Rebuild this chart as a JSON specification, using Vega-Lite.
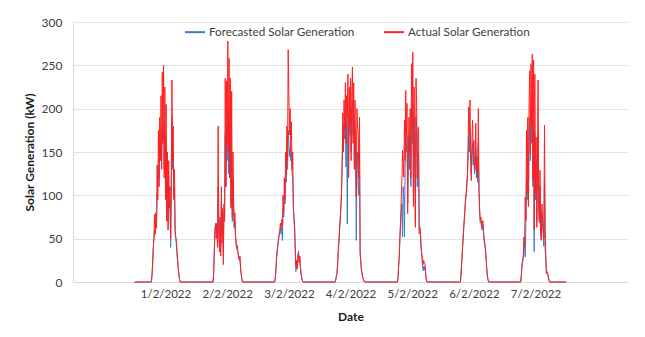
{
  "$schema": "https://vega.github.io/schema/vega-lite/v6.json",
  "width": 555,
  "height": 260,
  "autosize": {"type": "none"},
  "padding": {"left": 73, "top": 22, "right": 17, "bottom": 55},
  "background": "white",
  "config": {
    "view": {"stroke": null},
    "font": "Lato",
    "axis": {
      "labelFont": "Lato",
      "titleFont": "Lato",
      "labelColor": "#404040",
      "titleColor": "#1a1a1a",
      "labelFontSize": 12,
      "titleFontSize": 12,
      "titleFontWeight": "bold",
      "ticks": false,
      "tickSize": 0,
      "domainColor": "#d9d9d9",
      "gridColor": "#e3e3e3"
    },
    "legend": {"labelFont": "Lato", "labelFontSize": 11.7, "labelColor": "#404040"}
  },
  "data": {
    "values": [
      {"time": "2022-02-01T00:00", "forecast": 0, "actual": 0},
      {"time": "2022-02-01T06:30", "forecast": 0, "actual": 0},
      {"time": "2022-02-01T06:45", "forecast": 8, "actual": 8},
      {"time": "2022-02-01T07:00", "forecast": 20, "actual": 22},
      {"time": "2022-02-01T07:15", "forecast": 38, "actual": 40},
      {"time": "2022-02-01T07:30", "forecast": 52, "actual": 50},
      {"time": "2022-02-01T07:45", "forecast": 60, "actual": 78},
      {"time": "2022-02-01T08:00", "forecast": 58, "actual": 55},
      {"time": "2022-02-01T08:15", "forecast": 65, "actual": 80},
      {"time": "2022-02-01T08:30", "forecast": 70, "actual": 62},
      {"time": "2022-02-01T08:45", "forecast": 100, "actual": 135},
      {"time": "2022-02-01T09:00", "forecast": 110, "actual": 95},
      {"time": "2022-02-01T09:15", "forecast": 130, "actual": 175},
      {"time": "2022-02-01T09:30", "forecast": 120, "actual": 110},
      {"time": "2022-02-01T09:45", "forecast": 155, "actual": 190},
      {"time": "2022-02-01T10:00", "forecast": 145, "actual": 140},
      {"time": "2022-02-01T10:15", "forecast": 160, "actual": 215},
      {"time": "2022-02-01T10:30", "forecast": 140, "actual": 130},
      {"time": "2022-02-01T10:45", "forecast": 175, "actual": 242},
      {"time": "2022-02-01T11:00", "forecast": 165, "actual": 160},
      {"time": "2022-02-01T11:15", "forecast": 185, "actual": 250},
      {"time": "2022-02-01T11:30", "forecast": 130, "actual": 120},
      {"time": "2022-02-01T11:45", "forecast": 170, "actual": 225},
      {"time": "2022-02-01T12:00", "forecast": 110, "actual": 95},
      {"time": "2022-02-01T12:15", "forecast": 150, "actual": 205},
      {"time": "2022-02-01T12:30", "forecast": 80, "actual": 70},
      {"time": "2022-02-01T12:45", "forecast": 120, "actual": 150},
      {"time": "2022-02-01T13:00", "forecast": 70, "actual": 60},
      {"time": "2022-02-01T13:15", "forecast": 110, "actual": 140},
      {"time": "2022-02-01T13:30", "forecast": 90, "actual": 85},
      {"time": "2022-02-01T13:45", "forecast": 95, "actual": 110},
      {"time": "2022-02-01T14:00", "forecast": 40, "actual": 50},
      {"time": "2022-02-01T14:15", "forecast": 100, "actual": 120},
      {"time": "2022-02-01T14:30", "forecast": 190, "actual": 233},
      {"time": "2022-02-01T14:45", "forecast": 130, "actual": 140},
      {"time": "2022-02-01T15:00", "forecast": 150, "actual": 180},
      {"time": "2022-02-01T15:15", "forecast": 100, "actual": 95},
      {"time": "2022-02-01T15:30", "forecast": 110, "actual": 130},
      {"time": "2022-02-01T15:45", "forecast": 55, "actual": 60},
      {"time": "2022-02-01T16:00", "forecast": 50, "actual": 52},
      {"time": "2022-02-01T16:15", "forecast": 42, "actual": 48},
      {"time": "2022-02-01T16:30", "forecast": 30, "actual": 35},
      {"time": "2022-02-01T16:45", "forecast": 22, "actual": 25},
      {"time": "2022-02-01T17:00", "forecast": 14, "actual": 15},
      {"time": "2022-02-01T17:15", "forecast": 8, "actual": 8},
      {"time": "2022-02-01T17:30", "forecast": 3, "actual": 3},
      {"time": "2022-02-01T17:45", "forecast": 0, "actual": 0},

      {"time": "2022-02-02T06:30", "forecast": 0, "actual": 0},
      {"time": "2022-02-02T06:45", "forecast": 12, "actual": 10},
      {"time": "2022-02-02T07:00", "forecast": 38, "actual": 35},
      {"time": "2022-02-02T07:15", "forecast": 62, "actual": 58},
      {"time": "2022-02-02T07:30", "forecast": 68, "actual": 65},
      {"time": "2022-02-02T07:45", "forecast": 60, "actual": 50},
      {"time": "2022-02-02T08:00", "forecast": 62, "actual": 68},
      {"time": "2022-02-02T08:15", "forecast": 50, "actual": 40},
      {"time": "2022-02-02T08:30", "forecast": 110, "actual": 180},
      {"time": "2022-02-02T08:45", "forecast": 60, "actual": 55},
      {"time": "2022-02-02T09:00", "forecast": 45, "actual": 35},
      {"time": "2022-02-02T09:15", "forecast": 70, "actual": 75},
      {"time": "2022-02-02T09:30", "forecast": 40, "actual": 30},
      {"time": "2022-02-02T09:45", "forecast": 90, "actual": 110},
      {"time": "2022-02-02T10:00", "forecast": 55, "actual": 45},
      {"time": "2022-02-02T10:15", "forecast": 75, "actual": 85},
      {"time": "2022-02-02T10:30", "forecast": 35, "actual": 20},
      {"time": "2022-02-02T10:45", "forecast": 80, "actual": 90},
      {"time": "2022-02-02T11:00", "forecast": 75, "actual": 70},
      {"time": "2022-02-02T11:15", "forecast": 170, "actual": 235},
      {"time": "2022-02-02T11:30", "forecast": 110, "actual": 110},
      {"time": "2022-02-02T11:45", "forecast": 180, "actual": 232},
      {"time": "2022-02-02T12:00", "forecast": 140, "actual": 160},
      {"time": "2022-02-02T12:15", "forecast": 200, "actual": 278},
      {"time": "2022-02-02T12:30", "forecast": 125, "actual": 150},
      {"time": "2022-02-02T12:45", "forecast": 180, "actual": 258},
      {"time": "2022-02-02T13:00", "forecast": 120, "actual": 120},
      {"time": "2022-02-02T13:15", "forecast": 170, "actual": 235},
      {"time": "2022-02-02T13:30", "forecast": 90, "actual": 85},
      {"time": "2022-02-02T13:45", "forecast": 150, "actual": 220},
      {"time": "2022-02-02T14:00", "forecast": 70, "actual": 75},
      {"time": "2022-02-02T14:15", "forecast": 120, "actual": 150},
      {"time": "2022-02-02T14:30", "forecast": 85, "actual": 100},
      {"time": "2022-02-02T14:45", "forecast": 62, "actual": 65},
      {"time": "2022-02-02T15:00", "forecast": 70, "actual": 80},
      {"time": "2022-02-02T15:15", "forecast": 50, "actual": 55},
      {"time": "2022-02-02T15:30", "forecast": 42, "actual": 45},
      {"time": "2022-02-02T15:45", "forecast": 38, "actual": 40},
      {"time": "2022-02-02T16:00", "forecast": 36, "actual": 42},
      {"time": "2022-02-02T16:15", "forecast": 34, "actual": 32},
      {"time": "2022-02-02T16:30", "forecast": 30, "actual": 28},
      {"time": "2022-02-02T16:45", "forecast": 26, "actual": 25},
      {"time": "2022-02-02T17:00", "forecast": 25, "actual": 30},
      {"time": "2022-02-02T17:15", "forecast": 14, "actual": 15},
      {"time": "2022-02-02T17:30", "forecast": 8, "actual": 8},
      {"time": "2022-02-02T17:45", "forecast": 3, "actual": 3},
      {"time": "2022-02-02T18:00", "forecast": 0, "actual": 0},

      {"time": "2022-02-03T06:30", "forecast": 0, "actual": 0},
      {"time": "2022-02-03T06:45", "forecast": 6, "actual": 5},
      {"time": "2022-02-03T07:00", "forecast": 16, "actual": 15},
      {"time": "2022-02-03T07:15", "forecast": 30, "actual": 28},
      {"time": "2022-02-03T07:30", "forecast": 38, "actual": 36},
      {"time": "2022-02-03T07:45", "forecast": 44, "actual": 42},
      {"time": "2022-02-03T08:00", "forecast": 50, "actual": 48},
      {"time": "2022-02-03T08:15", "forecast": 56, "actual": 55},
      {"time": "2022-02-03T08:30", "forecast": 58, "actual": 60},
      {"time": "2022-02-03T08:45", "forecast": 62, "actual": 68},
      {"time": "2022-02-03T09:00", "forecast": 55, "actual": 62},
      {"time": "2022-02-03T09:15", "forecast": 65, "actual": 72},
      {"time": "2022-02-03T09:30", "forecast": 48, "actual": 65},
      {"time": "2022-02-03T09:45", "forecast": 80, "actual": 100},
      {"time": "2022-02-03T10:00", "forecast": 75, "actual": 80},
      {"time": "2022-02-03T10:15", "forecast": 100, "actual": 120},
      {"time": "2022-02-03T10:30", "forecast": 90, "actual": 95},
      {"time": "2022-02-03T10:45", "forecast": 120, "actual": 150},
      {"time": "2022-02-03T11:00", "forecast": 115, "actual": 120},
      {"time": "2022-02-03T11:15", "forecast": 140, "actual": 180},
      {"time": "2022-02-03T11:30", "forecast": 130, "actual": 140},
      {"time": "2022-02-03T11:45", "forecast": 175, "actual": 268},
      {"time": "2022-02-03T12:00", "forecast": 160, "actual": 220},
      {"time": "2022-02-03T12:15", "forecast": 145, "actual": 170},
      {"time": "2022-02-03T12:30", "forecast": 155, "actual": 200},
      {"time": "2022-02-03T12:45", "forecast": 140, "actual": 150},
      {"time": "2022-02-03T13:00", "forecast": 150, "actual": 185},
      {"time": "2022-02-03T13:15", "forecast": 125, "actual": 130},
      {"time": "2022-02-03T13:30", "forecast": 120, "actual": 150},
      {"time": "2022-02-03T13:45", "forecast": 90, "actual": 85},
      {"time": "2022-02-03T14:00", "forecast": 70, "actual": 75},
      {"time": "2022-02-03T14:15", "forecast": 60, "actual": 65},
      {"time": "2022-02-03T14:30", "forecast": 35, "actual": 40},
      {"time": "2022-02-03T14:45", "forecast": 12, "actual": 18},
      {"time": "2022-02-03T15:00", "forecast": 20, "actual": 25},
      {"time": "2022-02-03T15:15", "forecast": 18, "actual": 15},
      {"time": "2022-02-03T15:30", "forecast": 30, "actual": 28},
      {"time": "2022-02-03T15:45", "forecast": 36, "actual": 33},
      {"time": "2022-02-03T16:00", "forecast": 25, "actual": 22},
      {"time": "2022-02-03T16:15", "forecast": 28, "actual": 30},
      {"time": "2022-02-03T16:30", "forecast": 16, "actual": 18},
      {"time": "2022-02-03T16:45", "forecast": 9, "actual": 10},
      {"time": "2022-02-03T17:00", "forecast": 5, "actual": 5},
      {"time": "2022-02-03T17:15", "forecast": 2, "actual": 2},
      {"time": "2022-02-03T17:30", "forecast": 0, "actual": 0},

      {"time": "2022-02-04T06:00", "forecast": 0, "actual": 0},
      {"time": "2022-02-04T06:15", "forecast": 3, "actual": 2},
      {"time": "2022-02-04T06:30", "forecast": 8, "actual": 6},
      {"time": "2022-02-04T06:45", "forecast": 12, "actual": 10},
      {"time": "2022-02-04T07:00", "forecast": 22, "actual": 20},
      {"time": "2022-02-04T07:15", "forecast": 38, "actual": 35},
      {"time": "2022-02-04T07:30", "forecast": 48, "actual": 45},
      {"time": "2022-02-04T07:45", "forecast": 62, "actual": 60},
      {"time": "2022-02-04T08:00", "forecast": 75, "actual": 72},
      {"time": "2022-02-04T08:15", "forecast": 88, "actual": 85},
      {"time": "2022-02-04T08:30", "forecast": 105, "actual": 100},
      {"time": "2022-02-04T08:45", "forecast": 130, "actual": 140},
      {"time": "2022-02-04T09:00", "forecast": 170, "actual": 195},
      {"time": "2022-02-04T09:15", "forecast": 150, "actual": 150},
      {"time": "2022-02-04T09:30", "forecast": 180, "actual": 210},
      {"time": "2022-02-04T09:45", "forecast": 165, "actual": 175},
      {"time": "2022-02-04T10:00", "forecast": 190, "actual": 230},
      {"time": "2022-02-04T10:15", "forecast": 133, "actual": 160},
      {"time": "2022-02-04T10:30", "forecast": 185, "actual": 215},
      {"time": "2022-02-04T10:45", "forecast": 67, "actual": 190},
      {"time": "2022-02-04T11:00", "forecast": 195, "actual": 240},
      {"time": "2022-02-04T11:15", "forecast": 130, "actual": 120},
      {"time": "2022-02-04T11:30", "forecast": 190, "actual": 225},
      {"time": "2022-02-04T11:45", "forecast": 170, "actual": 180},
      {"time": "2022-02-04T12:00", "forecast": 200, "actual": 235},
      {"time": "2022-02-04T12:15", "forecast": 150, "actual": 140},
      {"time": "2022-02-04T12:30", "forecast": 195, "actual": 220},
      {"time": "2022-02-04T12:45", "forecast": 210, "actual": 248},
      {"time": "2022-02-04T13:00", "forecast": 170, "actual": 160},
      {"time": "2022-02-04T13:15", "forecast": 195, "actual": 230},
      {"time": "2022-02-04T13:30", "forecast": 140, "actual": 130},
      {"time": "2022-02-04T13:45", "forecast": 180, "actual": 210},
      {"time": "2022-02-04T14:00", "forecast": 150, "actual": 150},
      {"time": "2022-02-04T14:15", "forecast": 48, "actual": 98},
      {"time": "2022-02-04T14:30", "forecast": 130, "actual": 200},
      {"time": "2022-02-04T14:45", "forecast": 150, "actual": 180},
      {"time": "2022-02-04T15:00", "forecast": 110, "actual": 170},
      {"time": "2022-02-04T15:15", "forecast": 100, "actual": 120},
      {"time": "2022-02-04T15:30", "forecast": 150, "actual": 190},
      {"time": "2022-02-04T15:45", "forecast": 32, "actual": 35},
      {"time": "2022-02-04T16:00", "forecast": 22, "actual": 25},
      {"time": "2022-02-04T16:15", "forecast": 14, "actual": 15},
      {"time": "2022-02-04T16:30", "forecast": 9, "actual": 10},
      {"time": "2022-02-04T16:45", "forecast": 5, "actual": 6},
      {"time": "2022-02-04T17:00", "forecast": 3, "actual": 3},
      {"time": "2022-02-04T17:15", "forecast": 1, "actual": 1},
      {"time": "2022-02-04T17:30", "forecast": 0, "actual": 0},

      {"time": "2022-02-05T06:15", "forecast": 0, "actual": 0},
      {"time": "2022-02-05T06:30", "forecast": 5, "actual": 5},
      {"time": "2022-02-05T06:45", "forecast": 18, "actual": 20},
      {"time": "2022-02-05T07:00", "forecast": 30, "actual": 33},
      {"time": "2022-02-05T07:15", "forecast": 50, "actual": 55},
      {"time": "2022-02-05T07:30", "forecast": 65, "actual": 71},
      {"time": "2022-02-05T07:45", "forecast": 80, "actual": 95},
      {"time": "2022-02-05T08:00", "forecast": 90, "actual": 117},
      {"time": "2022-02-05T08:15", "forecast": 52, "actual": 152},
      {"time": "2022-02-05T08:30", "forecast": 110, "actual": 137},
      {"time": "2022-02-05T08:45", "forecast": 100, "actual": 121},
      {"time": "2022-02-05T09:00", "forecast": 52, "actual": 187},
      {"time": "2022-02-05T09:15", "forecast": 130, "actual": 140},
      {"time": "2022-02-05T09:30", "forecast": 180, "actual": 221},
      {"time": "2022-02-05T09:45", "forecast": 150, "actual": 170},
      {"time": "2022-02-05T10:00", "forecast": 170, "actual": 206},
      {"time": "2022-02-05T10:15", "forecast": 90, "actual": 79},
      {"time": "2022-02-05T10:30", "forecast": 140, "actual": 150},
      {"time": "2022-02-05T10:45", "forecast": 160, "actual": 190},
      {"time": "2022-02-05T11:00", "forecast": 130, "actual": 148},
      {"time": "2022-02-05T11:15", "forecast": 170, "actual": 200},
      {"time": "2022-02-05T11:30", "forecast": 110, "actual": 120},
      {"time": "2022-02-05T11:45", "forecast": 200, "actual": 252},
      {"time": "2022-02-05T12:00", "forecast": 160, "actual": 180},
      {"time": "2022-02-05T12:15", "forecast": 205, "actual": 265},
      {"time": "2022-02-05T12:30", "forecast": 95, "actual": 87},
      {"time": "2022-02-05T12:45", "forecast": 190, "actual": 225},
      {"time": "2022-02-05T13:00", "forecast": 140, "actual": 150},
      {"time": "2022-02-05T13:15", "forecast": 70, "actual": 63},
      {"time": "2022-02-05T13:30", "forecast": 190, "actual": 235},
      {"time": "2022-02-05T13:45", "forecast": 170, "actual": 206},
      {"time": "2022-02-05T14:00", "forecast": 110, "actual": 120},
      {"time": "2022-02-05T14:15", "forecast": 150, "actual": 175},
      {"time": "2022-02-05T14:30", "forecast": 140, "actual": 179},
      {"time": "2022-02-05T14:45", "forecast": 60, "actual": 56},
      {"time": "2022-02-05T15:00", "forecast": 58, "actual": 63},
      {"time": "2022-02-05T15:15", "forecast": 52, "actual": 56},
      {"time": "2022-02-05T15:30", "forecast": 38, "actual": 40},
      {"time": "2022-02-05T15:45", "forecast": 30, "actual": 33},
      {"time": "2022-02-05T16:00", "forecast": 20, "actual": 25},
      {"time": "2022-02-05T16:15", "forecast": 13, "actual": 20},
      {"time": "2022-02-05T16:30", "forecast": 18, "actual": 25},
      {"time": "2022-02-05T16:45", "forecast": 14, "actual": 22},
      {"time": "2022-02-05T17:00", "forecast": 18, "actual": 21},
      {"time": "2022-02-05T17:15", "forecast": 9, "actual": 10},
      {"time": "2022-02-05T17:30", "forecast": 3, "actual": 3},
      {"time": "2022-02-05T17:45", "forecast": 0, "actual": 0},

      {"time": "2022-02-06T06:45", "forecast": 0, "actual": 0},
      {"time": "2022-02-06T07:00", "forecast": 8, "actual": 8},
      {"time": "2022-02-06T07:15", "forecast": 22, "actual": 20},
      {"time": "2022-02-06T07:30", "forecast": 35, "actual": 33},
      {"time": "2022-02-06T07:45", "forecast": 48, "actual": 45},
      {"time": "2022-02-06T08:00", "forecast": 60, "actual": 58},
      {"time": "2022-02-06T08:15", "forecast": 72, "actual": 70},
      {"time": "2022-02-06T08:30", "forecast": 82, "actual": 79},
      {"time": "2022-02-06T08:45", "forecast": 94, "actual": 95},
      {"time": "2022-02-06T09:00", "forecast": 98, "actual": 102},
      {"time": "2022-02-06T09:15", "forecast": 110, "actual": 113},
      {"time": "2022-02-06T09:30", "forecast": 120, "actual": 125},
      {"time": "2022-02-06T09:45", "forecast": 140, "actual": 156},
      {"time": "2022-02-06T10:00", "forecast": 170, "actual": 202},
      {"time": "2022-02-06T10:15", "forecast": 150, "actual": 170},
      {"time": "2022-02-06T10:30", "forecast": 175, "actual": 210},
      {"time": "2022-02-06T10:45", "forecast": 140, "actual": 148},
      {"time": "2022-02-06T11:00", "forecast": 125, "actual": 117},
      {"time": "2022-02-06T11:15", "forecast": 145, "actual": 160},
      {"time": "2022-02-06T11:30", "forecast": 160, "actual": 187},
      {"time": "2022-02-06T11:45", "forecast": 135, "actual": 148},
      {"time": "2022-02-06T12:00", "forecast": 150, "actual": 163},
      {"time": "2022-02-06T12:15", "forecast": 125, "actual": 130},
      {"time": "2022-02-06T12:30", "forecast": 130, "actual": 137},
      {"time": "2022-02-06T12:45", "forecast": 155, "actual": 183},
      {"time": "2022-02-06T13:00", "forecast": 120, "actual": 129},
      {"time": "2022-02-06T13:15", "forecast": 135, "actual": 144},
      {"time": "2022-02-06T13:30", "forecast": 115, "actual": 120},
      {"time": "2022-02-06T13:45", "forecast": 160, "actual": 200},
      {"time": "2022-02-06T14:00", "forecast": 105, "actual": 110},
      {"time": "2022-02-06T14:15", "forecast": 80, "actual": 85},
      {"time": "2022-02-06T14:30", "forecast": 68, "actual": 71},
      {"time": "2022-02-06T14:45", "forecast": 70, "actual": 75},
      {"time": "2022-02-06T15:00", "forecast": 64, "actual": 68},
      {"time": "2022-02-06T15:15", "forecast": 60, "actual": 63},
      {"time": "2022-02-06T15:30", "forecast": 66, "actual": 71},
      {"time": "2022-02-06T15:45", "forecast": 55, "actual": 60},
      {"time": "2022-02-06T16:00", "forecast": 48, "actual": 52},
      {"time": "2022-02-06T16:15", "forecast": 42, "actual": 45},
      {"time": "2022-02-06T16:30", "forecast": 37, "actual": 40},
      {"time": "2022-02-06T16:45", "forecast": 28, "actual": 30},
      {"time": "2022-02-06T17:00", "forecast": 16, "actual": 17},
      {"time": "2022-02-06T17:15", "forecast": 8, "actual": 8},
      {"time": "2022-02-06T17:30", "forecast": 3, "actual": 3},
      {"time": "2022-02-06T17:45", "forecast": 0, "actual": 0},

      {"time": "2022-02-07T06:15", "forecast": 0, "actual": 0},
      {"time": "2022-02-07T06:30", "forecast": 8, "actual": 8},
      {"time": "2022-02-07T06:45", "forecast": 20, "actual": 21},
      {"time": "2022-02-07T07:00", "forecast": 24, "actual": 25},
      {"time": "2022-02-07T07:15", "forecast": 28, "actual": 30},
      {"time": "2022-02-07T07:30", "forecast": 45, "actual": 52},
      {"time": "2022-02-07T07:45", "forecast": 40, "actual": 40},
      {"time": "2022-02-07T08:00", "forecast": 29, "actual": 98},
      {"time": "2022-02-07T08:15", "forecast": 65, "actual": 71},
      {"time": "2022-02-07T08:30", "forecast": 120, "actual": 175},
      {"time": "2022-02-07T08:45", "forecast": 95, "actual": 102},
      {"time": "2022-02-07T09:00", "forecast": 150, "actual": 190},
      {"time": "2022-02-07T09:15", "forecast": 90, "actual": 87},
      {"time": "2022-02-07T09:30", "forecast": 160, "actual": 206},
      {"time": "2022-02-07T09:45", "forecast": 190, "actual": 244},
      {"time": "2022-02-07T10:00", "forecast": 140, "actual": 148},
      {"time": "2022-02-07T10:15", "forecast": 200, "actual": 252},
      {"time": "2022-02-07T10:30", "forecast": 160, "actual": 180},
      {"time": "2022-02-07T10:45", "forecast": 190, "actual": 263},
      {"time": "2022-02-07T11:00", "forecast": 110, "actual": 117},
      {"time": "2022-02-07T11:15", "forecast": 180, "actual": 256},
      {"time": "2022-02-07T11:30", "forecast": 35, "actual": 60},
      {"time": "2022-02-07T11:45", "forecast": 170, "actual": 240},
      {"time": "2022-02-07T12:00", "forecast": 95, "actual": 102},
      {"time": "2022-02-07T12:15", "forecast": 140, "actual": 167},
      {"time": "2022-02-07T12:30", "forecast": 70, "actual": 63},
      {"time": "2022-02-07T12:45", "forecast": 120, "actual": 140},
      {"time": "2022-02-07T13:00", "forecast": 170, "actual": 233},
      {"time": "2022-02-07T13:15", "forecast": 85, "actual": 90},
      {"time": "2022-02-07T13:30", "forecast": 68, "actual": 71},
      {"time": "2022-02-07T13:45", "forecast": 110, "actual": 129},
      {"time": "2022-02-07T14:00", "forecast": 58, "actual": 60},
      {"time": "2022-02-07T14:15", "forecast": 50, "actual": 48},
      {"time": "2022-02-07T14:30", "forecast": 80, "actual": 90},
      {"time": "2022-02-07T14:45", "forecast": 65, "actual": 75},
      {"time": "2022-02-07T15:00", "forecast": 55, "actual": 63},
      {"time": "2022-02-07T15:15", "forecast": 41, "actual": 50},
      {"time": "2022-02-07T15:30", "forecast": 120, "actual": 181},
      {"time": "2022-02-07T15:45", "forecast": 37, "actual": 63},
      {"time": "2022-02-07T16:00", "forecast": 28, "actual": 30},
      {"time": "2022-02-07T16:15", "forecast": 10, "actual": 10},
      {"time": "2022-02-07T16:30", "forecast": 11, "actual": 12},
      {"time": "2022-02-07T16:45", "forecast": 9, "actual": 10},
      {"time": "2022-02-07T17:00", "forecast": 5, "actual": 6},
      {"time": "2022-02-07T17:15", "forecast": 2, "actual": 2},
      {"time": "2022-02-07T17:30", "forecast": 0, "actual": 0},
      {"time": "2022-02-08T00:00", "forecast": 0, "actual": 0}
    ]
  },
  "encoding": {
    "x": {
      "field": "time",
      "type": "temporal",
      "scale": {
        "domain": [
          {"year": 2022, "month": "jan", "date": 31},
          {"year": 2022, "month": "feb", "date": 9}
        ]
      },
      "axis": {
        "title": "Date",
        "grid": false,
        "format": "%-d/%-m/%Y",
        "labelFontSize": 11.5,
        "labelPadding": 6,
        "titlePadding": 12,
        "values": [
          {"year": 2022, "month": "feb", "date": 1, "hours": 12},
          {"year": 2022, "month": "feb", "date": 2, "hours": 12},
          {"year": 2022, "month": "feb", "date": 3, "hours": 12},
          {"year": 2022, "month": "feb", "date": 4, "hours": 12},
          {"year": 2022, "month": "feb", "date": 5, "hours": 12},
          {"year": 2022, "month": "feb", "date": 6, "hours": 12},
          {"year": 2022, "month": "feb", "date": 7, "hours": 12}
        ]
      }
    }
  },
  "layer": [
    {
      "mark": {"type": "line", "strokeWidth": 1, "interpolate": "linear"},
      "encoding": {
        "y": {
          "field": "forecast",
          "type": "quantitative",
          "scale": {"domain": [0, 300], "nice": false},
          "axis": {
            "title": "Solar Generation (kW)",
            "values": [0, 50, 100, 150, 200, 250, 300],
            "grid": true,
            "labelPadding": 11,
            "titlePadding": 5
          }
        },
        "color": {
          "datum": "Forecasted Solar Generation",
          "type": "nominal",
          "scale": {
            "domain": ["Forecasted Solar Generation", "Actual Solar Generation"],
            "range": ["#3a7cc4", "#ff2020"]
          },
          "legend": {
            "title": null,
            "orient": "none",
            "direction": "horizontal",
            "legendX": 111,
            "legendY": -1,
            "symbolType": "stroke",
            "symbolSize": 400,
            "symbolStrokeWidth": 2,
            "labelOffset": 3,
            "columnPadding": 25
          }
        }
      }
    },
    {
      "mark": {"type": "line", "strokeWidth": 1, "interpolate": "linear"},
      "encoding": {
        "y": {"field": "actual", "type": "quantitative"},
        "color": {"datum": "Actual Solar Generation", "type": "nominal"}
      }
    }
  ]
}
